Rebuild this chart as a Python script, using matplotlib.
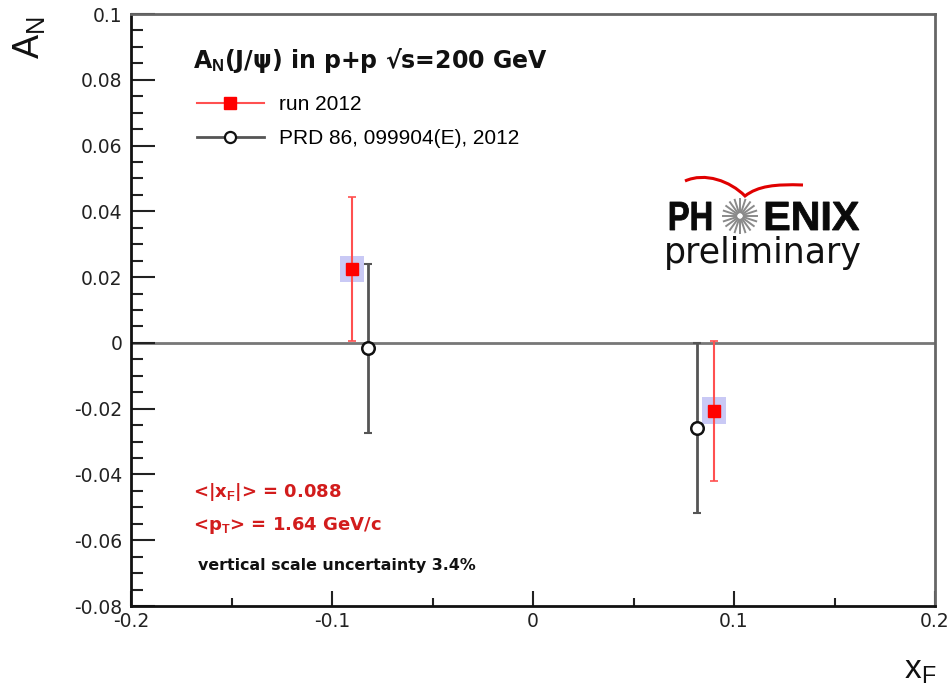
import matplotlib
matplotlib.use("Agg")
import matplotlib.pyplot as plt
import numpy as np
from matplotlib.patches import Rectangle, PathPatch, Circle
from matplotlib.path import Path
from matplotlib.textpath import TextPath
from matplotlib.font_manager import FontProperties
from matplotlib.transforms import Affine2D
from matplotlib.lines import Line2D

plt.rcParams['font.family'] = ['Liberation Sans', 'DejaVu Sans']
plt.rcParams['mathtext.fontset'] = 'custom'
plt.rcParams['mathtext.rm'] = 'Liberation Sans'
plt.rcParams['mathtext.it'] = 'Liberation Sans'
plt.rcParams['mathtext.bf'] = 'Liberation Sans:bold'
plt.rcParams['axes.unicode_minus'] = False

# ---------------- data ----------------
run12_label = "run 2012"
run12_x = [-0.0900, 0.0900]
run12_y = [0.0225, -0.0207]
run12_err = [0.0218, 0.0214]
run12_sys_x = [0.0060, 0.0060]
run12_sys_y = [0.0040, 0.0041]

prd_label = "PRD 86, 099904(E), 2012"
prd_x = [-0.0820, 0.0815]
prd_y = [-0.0017, -0.0259]
prd_err = [0.0256, 0.0259]

xlim = (-0.2, 0.2)
ylim = (-0.08, 0.1)
xtick_values = [-0.2, -0.1, 0.0, 0.1, 0.2]
xtick_labels = ["-0.2", "-0.1", "0", "0.1", "0.2"]
ytick_values = [-0.08, -0.06, -0.04, -0.02, 0.0, 0.02, 0.04, 0.06, 0.08, 0.1]
ytick_labels = ["-0.08", "-0.06", "-0.04", "-0.02", "0", "0.02", "0.04", "0.06", "0.08", "0.1"]

W, H = 952, 688
fig = plt.figure(figsize=(W / 100, H / 100), dpi=100)
AX_L, AX_R, AX_T, AX_B = 131, 935, 14, 606
ax = fig.add_axes([AX_L / W, 1 - AX_B / H, (AX_R - AX_L) / W, (AX_B - AX_T) / H])
ax.set_xlim(*xlim)
ax.set_ylim(*ylim)

def af(px, py):
    return ((px - AX_L) / (AX_R - AX_L), (AX_B - py) / (AX_B - AX_T))

# pixel (y down) -> display
T = Affine2D().scale(1, -1).translate(0, H)

# spines
for s in ['left', 'bottom']:
    ax.spines[s].set_linewidth(2)
    ax.spines[s].set_color('#111111')
for s in ['top', 'right']:
    ax.spines[s].set_linewidth(2)
    ax.spines[s].set_color('#666666')

ax.set_xticks(xtick_values)
ax.set_xticklabels(xtick_labels, family='DejaVu Sans')
ax.set_yticks(ytick_values)
ax.set_yticklabels(ytick_labels, family='DejaVu Sans')
ax.set_xticks(np.arange(-0.15, 0.2, 0.1), minor=True)
ax.set_yticks([v for v in np.arange(-0.08, 0.1001, 0.005) if abs(round(v / 0.02) * 0.02 - v) > 1e-6], minor=True)
ax.tick_params(axis='y', which='major', direction='in', length=17, width=1.5, labelsize=13.5, pad=6,
               left=True, right=False, color='#222222', labelcolor='#222222')
ax.tick_params(axis='y', which='minor', direction='in', length=8.5, width=1.5, left=True, right=False,
               color='#222222')
ax.tick_params(axis='x', which='major', direction='in', length=11, width=1.5, labelsize=13.5, pad=4,
               bottom=True, top=False, color='#222222', labelcolor='#222222')
ax.tick_params(axis='x', which='minor', direction='in', length=6, width=1.5, bottom=True, top=False,
               color='#222222')

# zero line
ax.axhline(0, color='#777777', lw=2, zorder=1)

# systematic boxes
for x, y, sx, sy in zip(run12_x, run12_y, run12_sys_x, run12_sys_y):
    ax.add_patch(Rectangle((x - sx, y - sy), 2 * sx, 2 * sy, facecolor='#c9c9f5', edgecolor='none', zorder=2))

# PRD points
ax.errorbar(prd_x, prd_y, yerr=prd_err, fmt='none', ecolor='#555555', elinewidth=2, capsize=3, capthick=1.5,
            zorder=3)
ax.plot(prd_x, prd_y, 'o', ms=9, mfc='white', mec='#111111', mew=1.8, zorder=5)

# run 2012 points
ax.errorbar(run12_x, run12_y, yerr=run12_err, fmt='none', ecolor='#ff5050', elinewidth=1.5, capsize=3,
            capthick=1.2, zorder=4)
ax.plot(run12_x, run12_y, 's', ms=8, color='#ff0000', mec='#ff0000', zorder=6)

# legend
h1 = Line2D([], [], color='#ff5050', lw=1.5, marker='s', ms=8, mfc='#ff0000', mec='#ff0000')
h2 = Line2D([], [], color='#555555', lw=2, marker='o', ms=8, mfc='white', mec='#111111', mew=1.6)
ax.legend([h1, h2], [run12_label, prd_label], loc='upper left', bbox_to_anchor=af(197, 95),
          frameon=False, fontsize=15, handlelength=3.2, handletextpad=0.75, labelspacing=0.72,
          borderpad=0, borderaxespad=0)

# title
ax.text(*af(193, 68), r'A$_{\mathbf{N}}$(J/ψ) in p+p √s=200 GeV', transform=ax.transAxes,
        fontsize=17, fontweight='bold', family='DejaVu Sans', va='baseline', ha='left', color='#111111')

# red annotations
red = '#d21c1c'
ax.text(*af(193, 497), r'<|x$_{\mathbf{F}}$|> = 0.088', transform=ax.transAxes, fontsize=13,
        fontweight='bold', family='DejaVu Sans', color=red, va='baseline', ha='left')
ax.text(*af(193, 530), r'<p$_{\mathbf{T}}$> = 1.64 GeV/c', transform=ax.transAxes, fontsize=13,
        fontweight='bold', family='DejaVu Sans', color=red, va='baseline', ha='left')
ax.text(*af(198, 570), 'vertical scale uncertainty 3.4%', transform=ax.transAxes, fontsize=11.4,
        fontweight='bold', family='DejaVu Sans', color='#111111', va='baseline', ha='left')

# axis labels
fig.text(29 / W, 1 - 38 / H, r'$\mathregular{A_N}$', rotation=90, fontsize=26, ha='center', va='center',
         color='#111111')
fig.text(936 / W, 1 - 671 / H, r'$\mathregular{x_F}$', fontsize=24, ha='right', va='center', color='#111111')

# ---------------- PHENIX logo (decoration) ----------------
fpb = FontProperties(family='Liberation Sans', weight='bold')

def place_word(word, left, right, baseline, cap):
    tp = TextPath((0, 0), word, size=40, prop=fpb)
    bb = tp.get_extents()
    sx = (right - left) / bb.width
    sy = cap / bb.height
    tr = Affine2D().translate(-bb.x0, 0).scale(sx, -sy).translate(left, baseline) + T
    fig.add_artist(PathPatch(tp, facecolor='#0a0a0a', edgecolor='#0a0a0a', lw=0.6, transform=tr))

place_word('PH', 670, 711, 230, 28)
place_word('ENIX', 766, 859, 230, 28)

# star
cx, cy, r = 740, 216, 17
for a in np.linspace(0, 2 * np.pi, 20, endpoint=False):
    fig.add_artist(Line2D([cx + 4 * np.cos(a), cx + r * np.cos(a)], [cy + 4 * np.sin(a), cy + r * np.sin(a)],
                          color='#8a8a8a', lw=1.4, transform=T))
fig.add_artist(Circle((cx, cy), 3.5, facecolor='white', edgecolor='#999999', lw=1, transform=T))

# swoosh
verts = [(685, 181), (705, 172), (730, 181), (745, 196), (758, 186), (775, 184), (803, 185)]
codes = [Path.MOVETO, Path.CURVE4, Path.CURVE4, Path.CURVE4, Path.CURVE4, Path.CURVE4, Path.CURVE4]
fig.add_artist(PathPatch(Path(verts, codes), facecolor='none', edgecolor='#e00000', lw=2.2, transform=T))

fig.text(664, 263, 'preliminary', family='DejaVu Sans', fontsize=25, color='#111111', ha='left',
         va='baseline', transform=T)

fig.savefig('out.png', dpi=100)
